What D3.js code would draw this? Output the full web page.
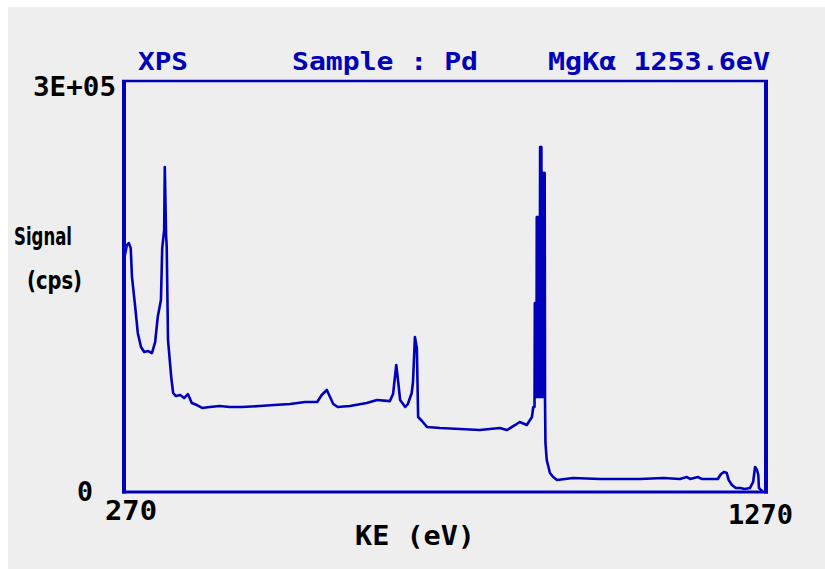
<!DOCTYPE html>
<html>
<head>
<meta charset="utf-8">
<script src="https://cdn.jsdelivr.net/npm/d3@7"></script>
<style>
  body { margin: 0; background: #ffffff; }
  svg { display: block; }
</style>
</head>
<body>
<svg id="vis-svg" width="825" height="569"></svg>
<script>
// chart size
var width = 825;
var height = 569;

var blue = "#0000bb";
var monoFont = "'DejaVu Sans Mono', 'Liberation Mono', monospace";

// kinetic energy (eV) and signal (cps)
var kineticEnergy = [273, 276, 279, 282, 284, 289, 293, 298, 303, 309, 315, 320, 324, 329, 331, 334, 335, 337, 338, 340,
  345, 348, 352, 359, 365, 371, 377, 385, 393, 405, 420, 436, 455, 483, 505, 530, 553, 572, 579, 587,
  592, 597, 604, 623, 649, 665, 685, 690, 695, 698, 701, 709, 713, 719, 721, 724, 727, 729, 735, 743,
  763, 794, 825, 856, 867, 880, 887, 898, 906, 908, 910,
  910.5, 911, 911.5, 912, 912.5, 913, 913.5, 914, 914.5, 915, 915.5, 916, 916.5, 917, 917.5, 918,
  918.7, 919.2, 919.7, 920.2, 920.7, 921.2, 921.8, 922.3, 922.8, 923.3, 923.8, 924.3, 924.8, 925.3, 925.8, 926.3,
  927, 929, 934, 939, 945, 970, 1012, 1043, 1074, 1111, 1136, 1147, 1152, 1164, 1170, 1195, 1200, 1205,
  1209, 1212, 1217, 1223, 1230, 1237, 1245, 1250, 1253, 1256, 1258, 1259, 1262, 1265];

var signalCps = [172500, 179800, 181300, 177600, 156500, 134700, 115800, 105600, 101900, 102600, 101200, 109200, 127400, 139800, 177600, 190700, 236600, 187100, 178400, 110700,
  83700, 72100, 69900, 70600, 68400, 71300, 64800, 63300, 61200, 61900, 62600, 61900, 61900, 62600, 63300, 64100, 65500, 65500, 70600, 74300,
  69200, 64100, 61900, 62600, 64800, 67000, 66200, 71300, 92500, 80100, 67000, 61900, 64100, 72100, 80100, 112800, 104800, 54600, 51700, 47300,
  46600, 45900, 45100, 46600, 45100, 48800, 51000, 48800, 54600, 61900, 61900,
  137600, 69200, 137600, 69200, 137600, 69200, 200200, 69200, 200200, 69200, 200200, 69200, 200200, 69200, 200200, 69200,
  251200, 69200, 251200, 69200, 251200, 69200, 232200, 69200, 232200, 69200, 232200, 69200, 232200, 69200, 232200, 69200,
  35700, 23300, 13800, 10900, 8700, 10200, 9500, 9500, 9500, 10200, 9500, 10900, 9500, 10900, 9500, 9500, 13100, 14600,
  13800, 8700, 5100, 2900, 2900, 2200, 2900, 7300, 18200, 16000, 12400, 2900, 1500, 700];

var xTickLabels = ["270", "1270"];
var yTickLabels = ["0", "3E+05"];
var titleParts = ["XPS", "Sample : Pd", "MgK\u03b1 1253.6eV"];

var spectrum = kineticEnergy.map(function(k, i) {
  return {ke: k, cps: signalCps[i]};
});

var svg = d3.select("#vis-svg");

// grey panel with a thin white edge at top and left
svg.append("rect")
  .attr("x", 8)
  .attr("y", 7)
  .attr("width", width - 8)
  .attr("height", height - 7)
  .attr("fill", "#eeeeee");

var x = d3.scaleLinear()
  .domain([270, 1270])
  .range([123, 766]);

var y = d3.scaleLinear()
  .domain([0, 300000])
  .range([492, 80]);

// spectrum line
svg.append("path")
  .datum(spectrum)
  .attr("fill", "none")
  .attr("stroke", blue)
  .attr("stroke-width", 2.6)
  .attr("stroke-linejoin", "round")
  .attr("d", d3.line()
    .x(function(d) { return x(d.ke); })
    .y(function(d) { return y(d.cps); })
  );

// frame
var frame = svg.append("g").attr("stroke", blue).attr("fill", "none");
frame.append("line")
  .attr("x1", x(270) - 1).attr("x2", x(1270) + 2)
  .attr("y1", y(300000) + 1).attr("y2", y(300000) + 1)
  .attr("stroke-width", 2.5);
frame.append("line")
  .attr("x1", x(270) - 1).attr("x2", x(1270) + 2)
  .attr("y1", y(0)).attr("y2", y(0))
  .attr("stroke-width", 3);
frame.append("line")
  .attr("x1", x(270) + 1).attr("x2", x(270) + 1)
  .attr("y1", y(300000)).attr("y2", y(0) + 1.5)
  .attr("stroke-width", 4);
frame.append("line")
  .attr("x1", x(1270)).attr("x2", x(1270))
  .attr("y1", y(300000)).attr("y2", y(0) + 1.5)
  .attr("stroke-width", 4);

function label(txt, px, py, len, color, font, size) {
  return svg.append("text")
    .attr("x", px)
    .attr("y", py)
    .attr("textLength", len)
    .attr("lengthAdjust", "spacingAndGlyphs")
    .attr("fill", color)
    .style("font-family", font)
    .style("font-weight", "bold")
    .style("font-size", size + "px")
    .text(txt);
}

// title row
label(titleParts[0], 138, 70, 50, blue, monoFont, 25);
label(titleParts[1], 292, 70, 186, blue, monoFont, 25);
label(titleParts[2], 548, 70, 222, blue, monoFont, 25);

// y labels
label(yTickLabels[1], 33, y(300000) + 16, 83, "#000", monoFont, 26);
label(yTickLabels[0], 77, y(0) + 9, 16, "#000", monoFont, 26);
label("Signal", 14, 245, 58, "#000", "'DejaVu Sans', sans-serif", 24);
label("(cps)", 27, 289, 55, "#000", "'DejaVu Sans', sans-serif", 24);

// x labels
label(xTickLabels[0], x(270) - 18, 520, 52, "#000", monoFont, 26);
label(xTickLabels[1], x(1270) - 38, 524, 65, "#000", monoFont, 26);
label("KE (eV)", 355, 545, 120, "#000", monoFont, 26);
</script>
</body>
</html>
